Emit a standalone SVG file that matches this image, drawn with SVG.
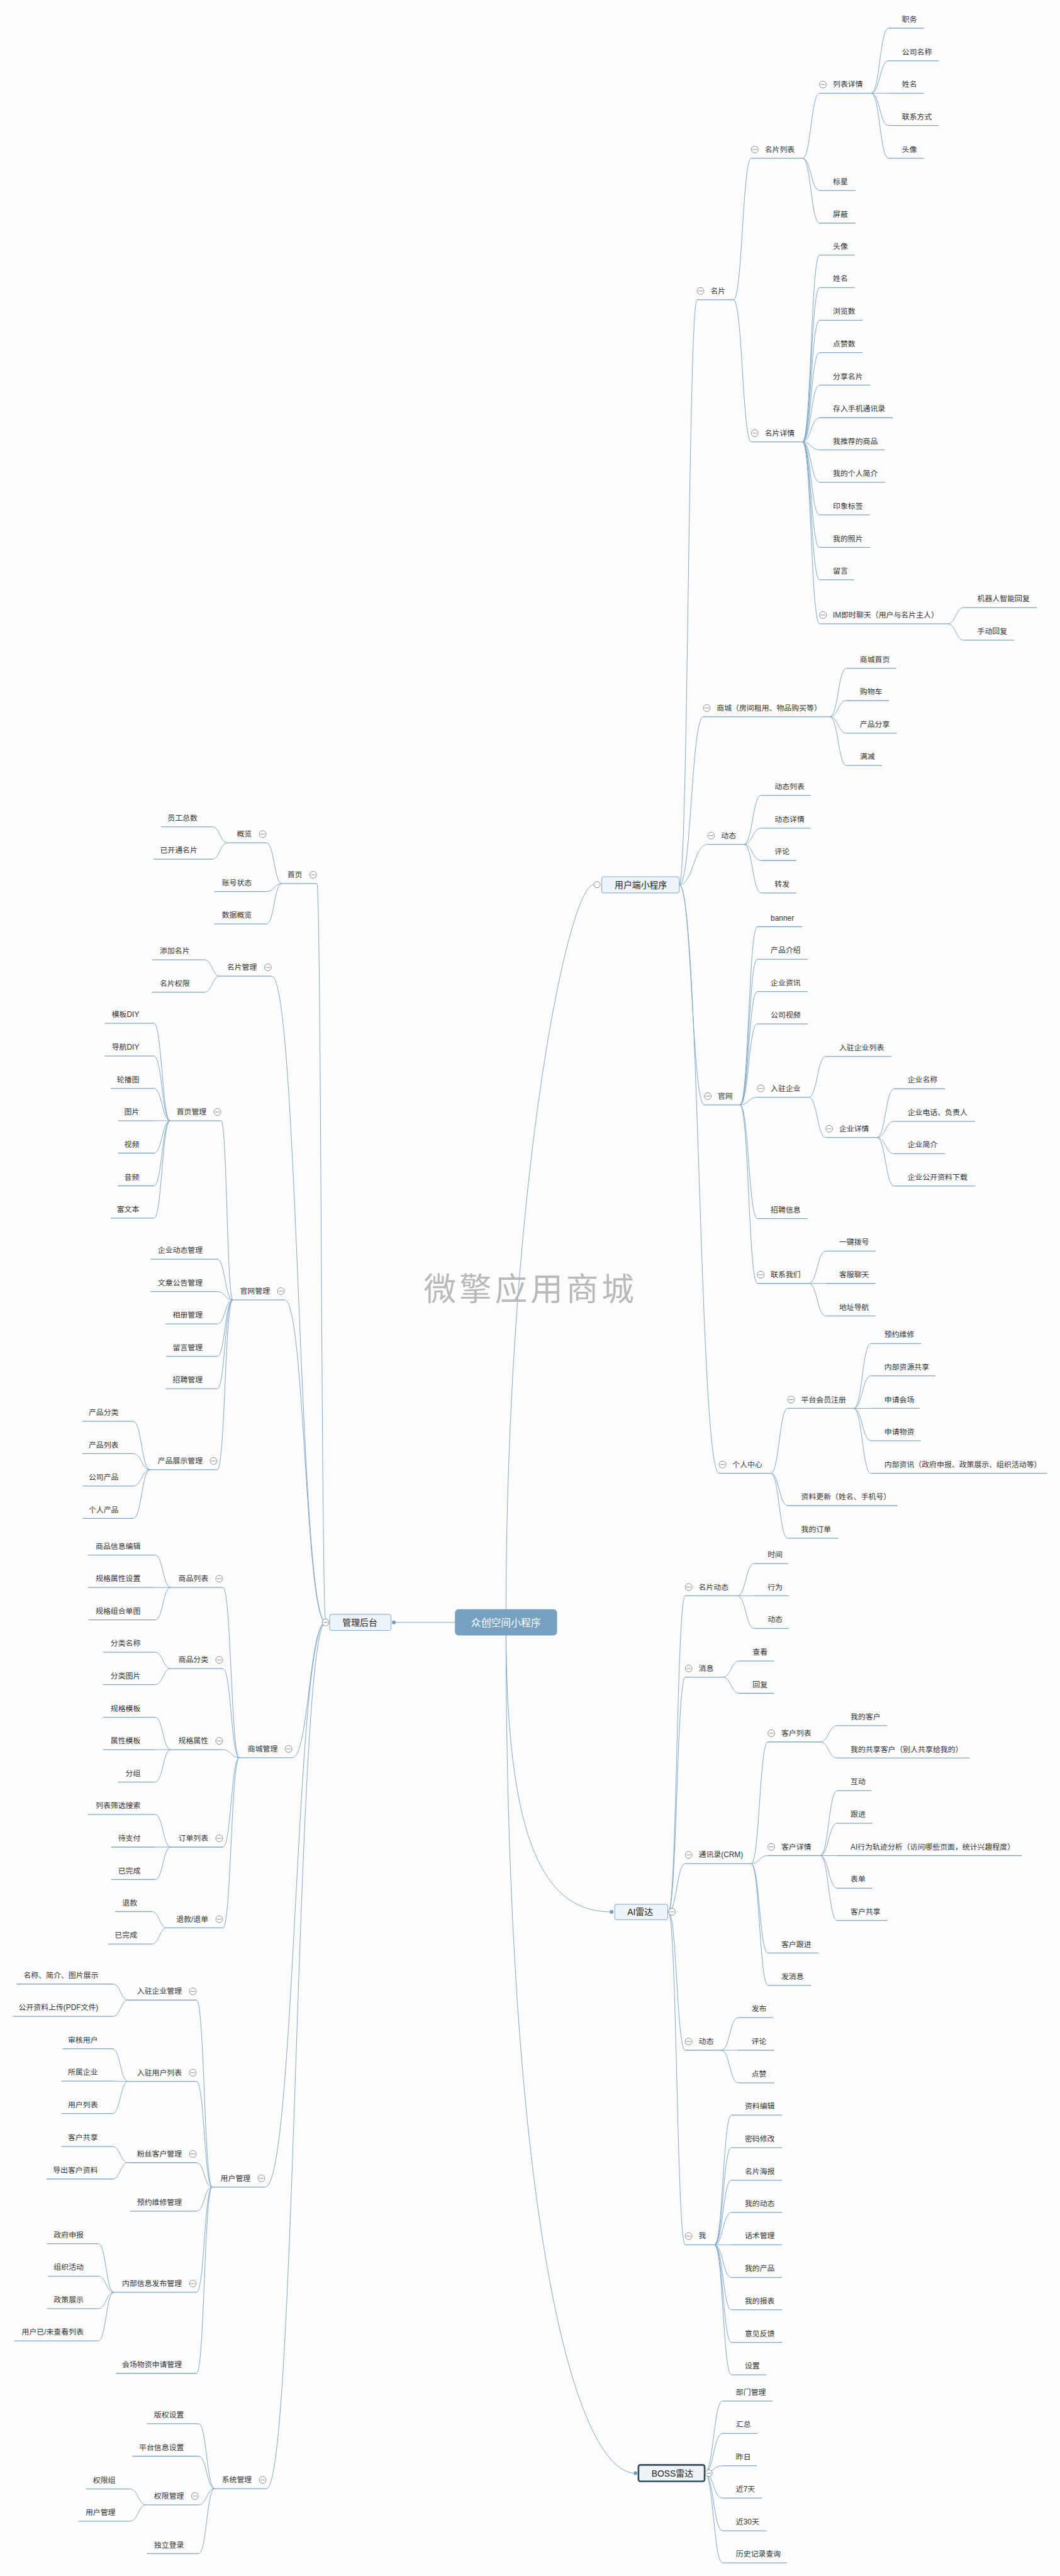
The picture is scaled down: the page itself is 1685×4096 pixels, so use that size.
<svg xmlns="http://www.w3.org/2000/svg" xmlns:xlink="http://www.w3.org/1999/xlink" width="1685" height="4096" viewBox="0 0 1685 4096">
<style>
.u{fill:none;stroke:#7fa6c6;stroke-width:1.3}
.l{fill:none;stroke:#7fa6c6;stroke-width:1}
.t{font-family:"Liberation Sans","Noto Sans CJK SC",sans-serif;font-size:12px;fill:#333}
.r{text-anchor:end}
.bx{fill:#eef4f8;stroke:#7fa6c6;stroke-width:1}
.bt{font-family:"Liberation Sans","Noto Sans CJK SC",sans-serif;font-size:14px;fill:#222}
.dot{fill:#6f9dc2}
</style>
<defs>
<g id="b"><circle r="5.5" fill="#fff" stroke="#8a8a8a" stroke-width="1"/><path d="M-3.6 0H3.6" stroke="#8a8a8a" stroke-width="1"/></g>
</defs>
<rect width="1685" height="4096" fill="#fcfcfc"/>
<g transform="scale(0.992)">
<g id="connectors" class="l">
<path d="M810.8 2600.5C810.8 1900 910 1418 951.5 1418M810.8 2600.5C810.8 2950 870 3064.5 980 3064.5M810.8 2600.5C810.8 3550 920 3964.2 1018.3 3964.2M729 2600.5H631.1"/>
<path d="M1088.5 1418C1102.8 1418 1102.8 480.4 1117 480.4M1088.5 1418C1107.8 1418 1107.8 1148.9 1127 1148.9M1088.5 1418C1111.3 1418 1111.3 1353.4 1134 1353.4M1088.5 1418C1108.6 1418 1108.6 1771 1128.6 1771M1088.5 1418C1120.4 1418 1120.4 2361.5 1152.2 2361.5"/>
<path d="M1175.4 480.4C1189.7 480.4 1189.7 253.6 1204 253.6M1175.4 480.4C1189.7 480.4 1189.7 708.3 1204 708.3"/>
<path d="M1286 253.6C1299.6 253.6 1299.6 149.5 1313.2 149.5M1286 253.6C1299.6 253.6 1299.6 305.3 1313.2 305.3M1286 253.6C1299.6 253.6 1299.6 357.6 1313.2 357.6"/>
<path d="M1396 149.5C1409.9 149.5 1409.9 45.1 1423.8 45.1M1396 149.5C1409.9 149.5 1409.9 97.3 1423.8 97.3M1396 149.5H1423.8M1396 149.5C1409.9 149.5 1409.9 201.3 1423.8 201.3M1396 149.5C1409.9 149.5 1409.9 253.6 1423.8 253.6"/>
<path d="M1286 708.3C1299.6 708.3 1299.6 408.9 1313.2 408.9M1286 708.3C1299.6 708.3 1299.6 461.1 1313.2 461.1M1286 708.3C1299.6 708.3 1299.6 513.4 1313.2 513.4M1286 708.3C1299.6 708.3 1299.6 565.2 1313.2 565.2M1286 708.3C1299.6 708.3 1299.6 617.4 1313.2 617.4M1286 708.3C1299.6 708.3 1299.6 669.6 1313.2 669.6M1286 708.3C1299.6 708.3 1299.6 721.2 1313.2 721.2M1286 708.3C1299.6 708.3 1299.6 773 1313.2 773M1286 708.3C1299.6 708.3 1299.6 825.3 1313.2 825.3M1286 708.3C1299.6 708.3 1299.6 877.5 1313.2 877.5M1286 708.3C1299.6 708.3 1299.6 929.3 1313.2 929.3M1286 708.3C1299.6 708.3 1299.6 999.8 1313.2 999.8"/>
<path d="M1518.5 999.8C1531.6 999.8 1531.6 973.9 1544.6 973.9M1518.5 999.8C1531.6 999.8 1531.6 1026.1 1544.6 1026.1"/>
<path d="M1329.8 1148.9C1343.1 1148.9 1343.1 1071.2 1356.3 1071.2M1329.8 1148.9C1343.1 1148.9 1343.1 1123 1356.3 1123M1329.8 1148.9C1343.1 1148.9 1343.1 1175.2 1356.3 1175.2M1329.8 1148.9C1343.1 1148.9 1343.1 1227 1356.3 1227"/>
<path d="M1192 1353.4C1205.9 1353.4 1205.9 1274.8 1219.7 1274.8M1192 1353.4C1205.9 1353.4 1205.9 1327.5 1219.7 1327.5M1192 1353.4C1205.9 1353.4 1205.9 1379.3 1219.7 1379.3M1192 1353.4C1205.9 1353.4 1205.9 1431.3 1219.7 1431.3"/>
<path d="M1185.8 1771C1199.7 1771 1199.7 1485.4 1213.5 1485.4M1185.8 1771C1199.7 1771 1199.7 1537.6 1213.5 1537.6M1185.8 1771C1199.7 1771 1199.7 1589.4 1213.5 1589.4M1185.8 1771C1199.7 1771 1199.7 1641.2 1213.5 1641.2M1185.8 1771C1199.7 1771 1199.7 1758.6 1213.5 1758.6M1185.8 1771C1199.7 1771 1199.7 1953.2 1213.5 1953.2M1185.8 1771C1199.7 1771 1199.7 2057.2 1213.5 2057.2"/>
<path d="M1295.9 1758.6C1309.6 1758.6 1309.6 1693.4 1323.2 1693.4M1295.9 1758.6C1309.6 1758.6 1309.6 1823.3 1323.2 1823.3"/>
<path d="M1405.1 1823.3C1419 1823.3 1419 1745.2 1432.8 1745.2M1405.1 1823.3C1419 1823.3 1419 1797.4 1432.8 1797.4M1405.1 1823.3C1419 1823.3 1419 1849.2 1432.8 1849.2M1405.1 1823.3C1419 1823.3 1419 1901 1432.8 1901"/>
<path d="M1295.9 2057.2C1309.6 2057.2 1309.6 2005.4 1323.2 2005.4M1295.9 2057.2H1323.2M1295.9 2057.2C1309.6 2057.2 1309.6 2109.3 1323.2 2109.3"/>
<path d="M1235 2361.5C1248.7 2361.5 1248.7 2257.5 1262.3 2257.5M1235 2361.5C1248.7 2361.5 1248.7 2413.3 1262.3 2413.3M1235 2361.5C1248.7 2361.5 1248.7 2465.5 1262.3 2465.5"/>
<path d="M1367.9 2257.5C1381.8 2257.5 1381.8 2153.5 1395.6 2153.5M1367.9 2257.5C1381.8 2257.5 1381.8 2205.3 1395.6 2205.3M1367.9 2257.5H1395.6M1367.9 2257.5C1381.8 2257.5 1381.8 2309.3 1395.6 2309.3M1367.9 2257.5C1381.8 2257.5 1381.8 2361.5 1395.6 2361.5"/>
<path d="M1071 3064.5C1084.5 3064.5 1084.5 2557.9 1098 2557.9M1071 3064.5C1084.5 3064.5 1084.5 2688.3 1098 2688.3M1071 3064.5C1084.5 3064.5 1084.5 2987.2 1098 2987.2M1071 3064.5C1084.5 3064.5 1084.5 3286.3 1098 3286.3M1071 3064.5C1084.5 3064.5 1084.5 3598.2 1098 3598.2"/>
<path d="M1181.6 2557.9C1195.1 2557.9 1195.1 2506.1 1208.5 2506.1M1181.6 2557.9H1208.5M1181.6 2557.9C1195.1 2557.9 1195.1 2610.2 1208.5 2610.2"/>
<path d="M1158.4 2688.3C1171.5 2688.3 1171.5 2662.4 1184.5 2662.4M1158.4 2688.3C1171.5 2688.3 1171.5 2714.2 1184.5 2714.2"/>
<path d="M1203.7 2987.2C1217.1 2987.2 1217.1 2792.1 1230.5 2792.1M1203.7 2987.2C1217.1 2987.2 1217.1 2974.3 1230.5 2974.3M1203.7 2987.2C1217.1 2987.2 1217.1 3130.5 1230.5 3130.5M1203.7 2987.2C1217.1 2987.2 1217.1 3182.3 1230.5 3182.3"/>
<path d="M1314.3 2792.1C1327.9 2792.1 1327.9 2765.9 1341.5 2765.9M1314.3 2792.1C1327.9 2792.1 1327.9 2818 1341.5 2818"/>
<path d="M1314.3 2974.3C1327.9 2974.3 1327.9 2870.3 1341.5 2870.3M1314.3 2974.3C1327.9 2974.3 1327.9 2922.5 1341.5 2922.5M1314.3 2974.3H1341.5M1314.3 2974.3C1327.9 2974.3 1327.9 3026.5 1341.5 3026.5M1314.3 2974.3C1327.9 2974.3 1327.9 3078.3 1341.5 3078.3"/>
<path d="M1156 3286.3C1169.4 3286.3 1169.4 3234.1 1182.8 3234.1M1156 3286.3H1182.8M1156 3286.3C1169.4 3286.3 1169.4 3338.5 1182.8 3338.5"/>
<path d="M1144.9 3598.2C1158.5 3598.2 1158.5 3390.3 1172 3390.3M1144.9 3598.2C1158.5 3598.2 1158.5 3442.5 1172 3442.5M1144.9 3598.2C1158.5 3598.2 1158.5 3494.5 1172 3494.5M1144.9 3598.2C1158.5 3598.2 1158.5 3546.3 1172 3546.3M1144.9 3598.2H1172M1144.9 3598.2C1158.5 3598.2 1158.5 3650.5 1172 3650.5M1144.9 3598.2C1158.5 3598.2 1158.5 3702.3 1172 3702.3M1144.9 3598.2C1158.5 3598.2 1158.5 3754.6 1172 3754.6M1144.9 3598.2C1158.5 3598.2 1158.5 3806.5 1172 3806.5"/>
<path d="M1129 3964.2C1143.4 3964.2 1143.4 3848.6 1157.8 3848.6M1129 3964.2C1143.4 3964.2 1143.4 3900.5 1157.8 3900.5M1129 3964.2C1143.4 3964.2 1143.4 3952.3 1157.8 3952.3M1129 3964.2C1143.4 3964.2 1143.4 4004.2 1157.8 4004.2M1129 3964.2C1143.4 3964.2 1143.4 4056.5 1157.8 4056.5M1129 3964.2C1143.4 3964.2 1143.4 4107.9 1157.8 4107.9"/>
<path d="M522 2600.5C514.9 2600.5 514.9 1416.2 507.8 1416.2M522 2600.5C478.6 2600.5 478.6 1564.6 435.2 1564.6M522 2600.5C489 2600.5 489 2083.5 456 2083.5M522 2600.5C495.2 2600.5 495.2 2817.4 468.4 2817.4M522 2600.5C473.5 2600.5 473.5 3505.6 424.9 3505.6M522 2600.5C474.5 2600.5 474.5 3989 427 3989"/>
<path d="M451.8 1416.2C439.4 1416.2 439.4 1351 427 1351M451.8 1416.2C439.4 1416.2 439.4 1429.1 427 1429.1M451.8 1416.2C439.4 1416.2 439.4 1481 427 1481"/>
<path d="M364.8 1351C352.4 1351 352.4 1325.3 339.9 1325.3M364.8 1351C352.4 1351 352.4 1377.2 339.9 1377.2"/>
<path d="M352.3 1564.6C339.9 1564.6 339.9 1538.4 327.5 1538.4M352.3 1564.6C339.9 1564.6 339.9 1590.3 327.5 1590.3"/>
<path d="M373 2083.5C363.7 2083.5 363.7 1796.4 354.4 1796.4M373 2083.5C360.6 2083.5 360.6 2018.3 348.2 2018.3M373 2083.5C360.6 2083.5 360.6 2070.2 348.2 2070.2M373 2083.5C360.6 2083.5 360.6 2122.1 348.2 2122.1M373 2083.5C360.6 2083.5 360.6 2174 348.2 2174M373 2083.5C360.6 2083.5 360.6 2225.9 348.2 2225.9M373 2083.5C360.6 2083.5 360.6 2355.8 348.2 2355.8"/>
<path d="M272.7 1796.4C259.7 1796.4 259.7 1640.3 246.6 1640.3M272.7 1796.4C259.7 1796.4 259.7 1692.7 246.6 1692.7M272.7 1796.4C259.7 1796.4 259.7 1744.6 246.6 1744.6M272.7 1796.4H246.6M272.7 1796.4C259.7 1796.4 259.7 1848.3 246.6 1848.3M272.7 1796.4C259.7 1796.4 259.7 1900.7 246.6 1900.7M272.7 1796.4C259.7 1796.4 259.7 1952.6 246.6 1952.6"/>
<path d="M240.4 2355.8C227 2355.8 227 2278.2 213.5 2278.2M240.4 2355.8C227 2355.8 227 2330.1 213.5 2330.1M240.4 2355.8C227 2355.8 227 2382 213.5 2382M240.4 2355.8C227 2355.8 227 2433.9 213.5 2433.9"/>
<path d="M383.4 2817.4C370.4 2817.4 370.4 2544.5 357.3 2544.5M383.4 2817.4C370.4 2817.4 370.4 2674.6 357.3 2674.6M383.4 2817.4C370.4 2817.4 370.4 2804.5 357.3 2804.5M383.4 2817.4C370.4 2817.4 370.4 2960.7 357.3 2960.7M383.4 2817.4C370.4 2817.4 370.4 3090.2 357.3 3090.2"/>
<path d="M273.6 2544.5C261.2 2544.5 261.2 2492.6 248.7 2492.6M273.6 2544.5H248.7M273.6 2544.5C261.2 2544.5 261.2 2596.4 248.7 2596.4"/>
<path d="M273.6 2674.6C261.2 2674.6 261.2 2648.4 248.7 2648.4M273.6 2674.6C261.2 2674.6 261.2 2700.3 248.7 2700.3"/>
<path d="M273.6 2804.5C261.2 2804.5 261.2 2752.7 248.7 2752.7M273.6 2804.5H248.7M273.6 2804.5C261.2 2804.5 261.2 2856.4 248.7 2856.4"/>
<path d="M273.6 2960.7C261.2 2960.7 261.2 2908.3 248.7 2908.3M273.6 2960.7H248.7M273.6 2960.7C261.2 2960.7 261.2 3012.6 248.7 3012.6"/>
<path d="M267.4 3090.2C255.4 3090.2 255.4 3064 243.3 3064M267.4 3090.2C255.4 3090.2 255.4 3116 243.3 3116"/>
<path d="M339.9 3505.6C327.5 3505.6 327.5 3205.9 315 3205.9M339.9 3505.6C327.5 3505.6 327.5 3336.3 315 3336.3M339.9 3505.6C327.5 3505.6 327.5 3466.5 315 3466.5M339.9 3505.6C327.5 3505.6 327.5 3544.3 315 3544.3M339.9 3505.6C327.5 3505.6 327.5 3674.3 315 3674.3M339.9 3505.6C327.5 3505.6 327.5 3804.2 315 3804.2"/>
<path d="M205.2 3205.9C193.2 3205.9 193.2 3180.2 181.1 3180.2M205.2 3205.9C193.2 3205.9 193.2 3232 181.1 3232"/>
<path d="M205.2 3336.3C192.8 3336.3 192.8 3284 180.3 3284M205.2 3336.3C192.8 3336.3 192.8 3335.8 180.3 3335.8M205.2 3336.3C192.8 3336.3 192.8 3387.7 180.3 3387.7"/>
<path d="M205.2 3466.5C192.8 3466.5 192.8 3440.7 180.3 3440.7M205.2 3466.5C192.8 3466.5 192.8 3492.7 180.3 3492.7"/>
<path d="M182.4 3674.3C170 3674.3 170 3596.4 157.5 3596.4M182.4 3674.3C170 3674.3 170 3648.5 157.5 3648.5M182.4 3674.3C170 3674.3 170 3700.5 157.5 3700.5M182.4 3674.3C170 3674.3 170 3752.1 157.5 3752.1"/>
<path d="M344 3989C331.2 3989 331.2 3884.9 318.3 3884.9M344 3989C331.2 3989 331.2 3937 318.3 3937M344 3989C331.2 3989 331.2 4014.9 318.3 4014.9M344 3989C331.2 3989 331.2 4093.2 318.3 4093.2"/>
<path d="M234.2 4014.9C221.4 4014.9 221.4 3989.5 208.5 3989.5M234.2 4014.9C221.4 4014.9 221.4 4041.1 208.5 4041.1"/>
</g>
<text x="679" y="2085" font-family="Liberation Sans,Noto Sans CJK SC,sans-serif" font-size="52" letter-spacing="5" fill="#b9b9b9">微擎应用商城</text>
<g id="root"><rect x="729" y="2579.4" width="163.7" height="42.1" rx="6" fill="#76a1c1"/><text x="810.8" y="2606.5" text-anchor="middle" font-family="Liberation Sans,Noto Sans CJK SC,sans-serif" font-size="16" fill="#fff">众创空间小程序</text></g>
<g id="main-admin"><rect class="bx" x="528.3" y="2587.6" width="98.3" height="25.8" rx="3"/><text class="bt" x="548.7" y="2605.8">管理后台</text><use href="#b" x="521.7" y="2600.5"/><circle class="dot" cx="631.1" cy="2600.5" r="3"/></g>
<g id="main-user"><rect class="bx" x="964.3" y="1405.4" width="124.2" height="25.9" rx="3"/><text class="bt" x="985" y="1423.7">用户端小程序</text><circle cx="956.7" cy="1418" r="5" fill="#fff" stroke="#8a8a8a"/></g>
<g id="main-ai"><rect class="bx" x="985" y="3052.4" width="85" height="24.6" rx="3"/><text class="bt" x="1005.3" y="3069.8">AI雷达</text><circle class="dot" cx="980" cy="3064.5" r="3"/><use href="#b" x="1076.7" y="3064.5"/></g>
<g id="main-boss"><rect x="1023.1" y="3951" width="106" height="26.4" rx="3" fill="#eef4f8" stroke="#2e4a5c" stroke-width="2.6"/><text class="bt" x="1044.1" y="3969.5">BOSS雷达</text><circle class="dot" cx="1018.3" cy="3964.2" r="3"/><use href="#b" x="1135.8" y="3964.2"/></g>
<g id="n-mp"><path class="u" d="M1117 480.4H1175.4"/><use href="#b" x="1122.5" y="466.4"/><text class="t" x="1138.5" y="470.4">名片</text></g>
<g id="n-mplb"><path class="u" d="M1204 253.6H1286"/><use href="#b" x="1209.5" y="239.6"/><text class="t" x="1225.5" y="243.6">名片列表</text></g>
<g id="n-lbxq"><path class="u" d="M1313.2 149.5H1396"/><use href="#b" x="1318.7" y="135.5"/><text class="t" x="1334.7" y="139.5">列表详情</text></g>
<g id="n-zw"><path class="u" d="M1423.8 45.1H1480.5"/><text class="t" x="1445.3" y="35.1">职务</text></g>
<g id="n-gsmc"><path class="u" d="M1423.8 97.3H1504.5"/><text class="t" x="1445.3" y="87.3">公司名称</text></g>
<g id="n-xm1"><path class="u" d="M1423.8 149.5H1480.5"/><text class="t" x="1445.3" y="139.5">姓名</text></g>
<g id="n-lxfs"><path class="u" d="M1423.8 201.3H1504.5"/><text class="t" x="1445.3" y="191.3">联系方式</text></g>
<g id="n-tx1"><path class="u" d="M1423.8 253.6H1480.5"/><text class="t" x="1445.3" y="243.6">头像</text></g>
<g id="n-bx"><path class="u" d="M1313.2 305.3H1370.8"/><text class="t" x="1334.7" y="295.3">标星</text></g>
<g id="n-pb"><path class="u" d="M1313.2 357.6H1370.8"/><text class="t" x="1334.7" y="347.6">屏蔽</text></g>
<g id="n-mpxq"><path class="u" d="M1204 708.3H1286"/><use href="#b" x="1209.5" y="694.3"/><text class="t" x="1225.5" y="698.3">名片详情</text></g>
<g id="n-tx2"><path class="u" d="M1313.2 408.9H1369.5"/><text class="t" x="1334.7" y="398.9">头像</text></g>
<g id="n-xm2"><path class="u" d="M1313.2 461.1H1369.5"/><text class="t" x="1334.7" y="451.1">姓名</text></g>
<g id="n-lls"><path class="u" d="M1313.2 513.4H1382.4"/><text class="t" x="1334.7" y="503.4">浏览数</text></g>
<g id="n-dzs"><path class="u" d="M1313.2 565.2H1382.4"/><text class="t" x="1334.7" y="555.2">点赞数</text></g>
<g id="n-fxmp"><path class="u" d="M1313.2 617.4H1394.8"/><text class="t" x="1334.7" y="607.4">分享名片</text></g>
<g id="n-crsj"><path class="u" d="M1313.2 669.6H1430.8"/><text class="t" x="1334.7" y="659.6">存入手机通讯录</text></g>
<g id="n-wtj"><path class="u" d="M1313.2 721.2H1417.5"/><text class="t" x="1334.7" y="711.2">我推荐的商品</text></g>
<g id="n-grjj"><path class="u" d="M1313.2 773H1418.4"/><text class="t" x="1334.7" y="763">我的个人简介</text></g>
<g id="n-yxbq"><path class="u" d="M1313.2 825.3H1393.5"/><text class="t" x="1334.7" y="815.3">印象标签</text></g>
<g id="n-wdzp"><path class="u" d="M1313.2 877.5H1394.8"/><text class="t" x="1334.7" y="867.5">我的照片</text></g>
<g id="n-ly"><path class="u" d="M1313.2 929.3H1368.7"/><text class="t" x="1334.7" y="919.3">留言</text></g>
<g id="n-im"><path class="u" d="M1313.2 999.8H1518.5"/><use href="#b" x="1318.7" y="985.8"/><text class="t" x="1334.7" y="989.8">IM即时聊天（用户与名片主人）</text></g>
<g id="n-jqr"><path class="u" d="M1544.6 973.9H1661.8"/><text class="t" x="1566.1" y="963.9">机器人智能回复</text></g>
<g id="n-sdhf"><path class="u" d="M1544.6 1026.1H1625.3"/><text class="t" x="1566.1" y="1016.1">手动回复</text></g>
<g id="n-sc"><path class="u" d="M1127 1148.9H1329.8"/><use href="#b" x="1132.5" y="1134.9"/><text class="t" x="1148.5" y="1138.9">商城（房间租用、物品购买等）</text></g>
<g id="n-scsy"><path class="u" d="M1356.3 1071.2H1436.2"/><text class="t" x="1377.8" y="1061.2">商城首页</text></g>
<g id="n-gwc"><path class="u" d="M1356.3 1123H1424.6"/><text class="t" x="1377.8" y="1113">购物车</text></g>
<g id="n-cpfx"><path class="u" d="M1356.3 1175.2H1437"/><text class="t" x="1377.8" y="1165.2">产品分享</text></g>
<g id="n-mj"><path class="u" d="M1356.3 1227H1413.4"/><text class="t" x="1377.8" y="1217">满减</text></g>
<g id="n-dt"><path class="u" d="M1134 1353.4H1192"/><use href="#b" x="1139.5" y="1339.4"/><text class="t" x="1155.5" y="1343.4">动态</text></g>
<g id="n-dtlb"><path class="u" d="M1219.7 1274.8H1299.2"/><text class="t" x="1241.2" y="1264.8">动态列表</text></g>
<g id="n-dtxq"><path class="u" d="M1219.7 1327.5H1299.2"/><text class="t" x="1241.2" y="1317.5">动态详情</text></g>
<g id="n-pl1"><path class="u" d="M1219.7 1379.3H1276"/><text class="t" x="1241.2" y="1369.3">评论</text></g>
<g id="n-zf"><path class="u" d="M1219.7 1431.3H1276"/><text class="t" x="1241.2" y="1421.3">转发</text></g>
<g id="n-gw"><path class="u" d="M1128.6 1771H1185.8"/><use href="#b" x="1134.1" y="1757"/><text class="t" x="1150.1" y="1761">官网</text></g>
<g id="n-banner"><path class="u" d="M1213.5 1485.4H1285.1"/><text class="t" x="1235" y="1475.4">banner</text></g>
<g id="n-cpjs"><path class="u" d="M1213.5 1537.6H1294.2"/><text class="t" x="1235" y="1527.6">产品介绍</text></g>
<g id="n-qyzx"><path class="u" d="M1213.5 1589.4H1294.2"/><text class="t" x="1235" y="1579.4">企业资讯</text></g>
<g id="n-gssp"><path class="u" d="M1213.5 1641.2H1294.2"/><text class="t" x="1235" y="1631.2">公司视频</text></g>
<g id="n-rzqy"><path class="u" d="M1213.5 1758.6H1295.9"/><use href="#b" x="1219" y="1744.6"/><text class="t" x="1235" y="1748.6">入驻企业</text></g>
<g id="n-rzqylb"><path class="u" d="M1323.2 1693.4H1428.7"/><text class="t" x="1344.7" y="1683.4">入驻企业列表</text></g>
<g id="n-qyxq"><path class="u" d="M1323.2 1823.3H1405.1"/><use href="#b" x="1328.7" y="1809.3"/><text class="t" x="1344.7" y="1813.3">企业详情</text></g>
<g id="n-qymc"><path class="u" d="M1432.8 1745.2H1514.4"/><text class="t" x="1454.3" y="1735.2">企业名称</text></g>
<g id="n-qydh"><path class="u" d="M1432.8 1797.4H1562.4"/><text class="t" x="1454.3" y="1787.4">企业电话、负责人</text></g>
<g id="n-qyjj"><path class="u" d="M1432.8 1849.2H1514.4"/><text class="t" x="1454.3" y="1839.2">企业简介</text></g>
<g id="n-qygk"><path class="u" d="M1432.8 1901H1562.4"/><text class="t" x="1454.3" y="1891">企业公开资料下载</text></g>
<g id="n-zpxx"><path class="u" d="M1213.5 1953.2H1294.2"/><text class="t" x="1235" y="1943.2">招聘信息</text></g>
<g id="n-lxwm"><path class="u" d="M1213.5 2057.2H1295.9"/><use href="#b" x="1219" y="2043.2"/><text class="t" x="1235" y="2047.2">联系我们</text></g>
<g id="n-yjbh"><path class="u" d="M1323.2 2005.4H1403"/><text class="t" x="1344.7" y="1995.4">一键拨号</text></g>
<g id="n-kflt"><path class="u" d="M1323.2 2057.2H1403"/><text class="t" x="1344.7" y="2047.2">客服聊天</text></g>
<g id="n-dzdh"><path class="u" d="M1323.2 2109.3H1403"/><text class="t" x="1344.7" y="2099.3">地址导航</text></g>
<g id="n-grzx"><path class="u" d="M1152.2 2361.5H1235"/><use href="#b" x="1157.7" y="2347.5"/><text class="t" x="1173.7" y="2351.5">个人中心</text></g>
<g id="n-pthy"><path class="u" d="M1262.3 2257.5H1367.9"/><use href="#b" x="1267.8" y="2243.5"/><text class="t" x="1283.8" y="2247.5">平台会员注册</text></g>
<g id="n-yywx"><path class="u" d="M1395.6 2153.5H1476.3"/><text class="t" x="1417.1" y="2143.5">预约维修</text></g>
<g id="n-nbzy"><path class="u" d="M1395.6 2205.3H1499.1"/><text class="t" x="1417.1" y="2195.3">内部资源共享</text></g>
<g id="n-sqhc"><path class="u" d="M1395.6 2257.5H1474.2"/><text class="t" x="1417.1" y="2247.5">申请会场</text></g>
<g id="n-sqwz"><path class="u" d="M1395.6 2309.3H1475.5"/><text class="t" x="1417.1" y="2299.3">申请物资</text></g>
<g id="n-nbzx"><path class="u" d="M1395.6 2361.5H1678.3"/><text class="t" x="1417.1" y="2351.5">内部资讯（政府申报、政策展示、组织活动等）</text></g>
<g id="n-zlgx"><path class="u" d="M1262.3 2413.3H1438.2"/><text class="t" x="1283.8" y="2403.3">资料更新（姓名、手机号）</text></g>
<g id="n-wddd"><path class="u" d="M1262.3 2465.5H1343.5"/><text class="t" x="1283.8" y="2455.5">我的订单</text></g>
<g id="n-mpdt"><path class="u" d="M1098 2557.9H1181.6"/><use href="#b" x="1103.5" y="2543.9"/><text class="t" x="1119.5" y="2547.9">名片动态</text></g>
<g id="n-sj"><path class="u" d="M1208.5 2506.1H1263.2"/><text class="t" x="1230" y="2496.1">时间</text></g>
<g id="n-xw"><path class="u" d="M1208.5 2557.9H1264"/><text class="t" x="1230" y="2547.9">行为</text></g>
<g id="n-dt2"><path class="u" d="M1208.5 2610.2H1264"/><text class="t" x="1230" y="2600.2">动态</text></g>
<g id="n-xx"><path class="u" d="M1098 2688.3H1158.4"/><use href="#b" x="1103.5" y="2674.3"/><text class="t" x="1119.5" y="2678.3">消息</text></g>
<g id="n-ck"><path class="u" d="M1184.5 2662.4H1240.4"/><text class="t" x="1206" y="2652.4">查看</text></g>
<g id="n-hf"><path class="u" d="M1184.5 2714.2H1240.4"/><text class="t" x="1206" y="2704.2">回复</text></g>
<g id="n-txl"><path class="u" d="M1098 2987.2H1203.7"/><use href="#b" x="1103.5" y="2973.2"/><text class="t" x="1119.5" y="2977.2">通讯录(CRM)</text></g>
<g id="n-khlb"><path class="u" d="M1230.5 2792.1H1314.3"/><use href="#b" x="1236" y="2778.1"/><text class="t" x="1252" y="2782.1">客户列表</text></g>
<g id="n-wdkh"><path class="u" d="M1341.5 2765.9H1421.5"/><text class="t" x="1363" y="2755.9">我的客户</text></g>
<g id="n-gxkh"><path class="u" d="M1341.5 2818H1553.7"/><text class="t" x="1363" y="2808">我的共享客户（别人共享给我的）</text></g>
<g id="n-khxq"><path class="u" d="M1230.5 2974.3H1314.3"/><use href="#b" x="1236" y="2960.3"/><text class="t" x="1252" y="2964.3">客户详情</text></g>
<g id="n-hd"><path class="u" d="M1341.5 2870.3H1396.8"/><text class="t" x="1363" y="2860.3">互动</text></g>
<g id="n-gj"><path class="u" d="M1341.5 2922.5H1398"/><text class="t" x="1363" y="2912.5">跟进</text></g>
<g id="n-aixw"><path class="u" d="M1341.5 2974.3H1637.5"/><text class="t" x="1363" y="2964.3">AI行为轨迹分析（访问哪些页面，统计兴趣程度）</text></g>
<g id="n-bd"><path class="u" d="M1341.5 3026.5H1398"/><text class="t" x="1363" y="3016.5">表单</text></g>
<g id="n-khgx"><path class="u" d="M1341.5 3078.3H1422.2"/><text class="t" x="1363" y="3068.3">客户共享</text></g>
<g id="n-khgj"><path class="u" d="M1230.5 3130.5H1312"/><text class="t" x="1252" y="3120.5">客户跟进</text></g>
<g id="n-fxx"><path class="u" d="M1230.5 3182.3H1300"/><text class="t" x="1252" y="3172.3">发消息</text></g>
<g id="n-dt3"><path class="u" d="M1098 3286.3H1156"/><use href="#b" x="1103.5" y="3272.3"/><text class="t" x="1119.5" y="3276.3">动态</text></g>
<g id="n-fb"><path class="u" d="M1182.8 3234.1H1239.4"/><text class="t" x="1204.3" y="3224.1">发布</text></g>
<g id="n-pl2"><path class="u" d="M1182.8 3286.3H1240.7"/><text class="t" x="1204.3" y="3276.3">评论</text></g>
<g id="n-dz"><path class="u" d="M1182.8 3338.5H1240.7"/><text class="t" x="1204.3" y="3328.5">点赞</text></g>
<g id="n-w"><path class="u" d="M1098 3598.2H1144.9"/><use href="#b" x="1103.5" y="3584.2"/><text class="t" x="1119.5" y="3588.2">我</text></g>
<g id="n-zlbj"><path class="u" d="M1172 3390.3H1253.3"/><text class="t" x="1193.5" y="3380.3">资料编辑</text></g>
<g id="n-mmxg"><path class="u" d="M1172 3442.5H1253.3"/><text class="t" x="1193.5" y="3432.5">密码修改</text></g>
<g id="n-mphb"><path class="u" d="M1172 3494.5H1253.3"/><text class="t" x="1193.5" y="3484.5">名片海报</text></g>
<g id="n-wddt"><path class="u" d="M1172 3546.3H1253.3"/><text class="t" x="1193.5" y="3536.3">我的动态</text></g>
<g id="n-hsgl"><path class="u" d="M1172 3598.2H1253.3"/><text class="t" x="1193.5" y="3588.2">话术管理</text></g>
<g id="n-wdcp"><path class="u" d="M1172 3650.5H1253.3"/><text class="t" x="1193.5" y="3640.5">我的产品</text></g>
<g id="n-wdbb"><path class="u" d="M1172 3702.3H1253.3"/><text class="t" x="1193.5" y="3692.3">我的报表</text></g>
<g id="n-yjfk"><path class="u" d="M1172 3754.6H1253.3"/><text class="t" x="1193.5" y="3744.6">意见反馈</text></g>
<g id="n-sz"><path class="u" d="M1172 3806.5H1228.5"/><text class="t" x="1193.5" y="3796.5">设置</text></g>
<g id="n-bmgl"><path class="u" d="M1157.8 3848.6H1238.5"/><text class="t" x="1179.3" y="3838.6">部门管理</text></g>
<g id="n-hz"><path class="u" d="M1157.8 3900.5H1214.2"/><text class="t" x="1179.3" y="3890.5">汇总</text></g>
<g id="n-zr"><path class="u" d="M1157.8 3952.3H1212.7"/><text class="t" x="1179.3" y="3942.3">昨日</text></g>
<g id="n-j7"><path class="u" d="M1157.8 4004.2H1221.3"/><text class="t" x="1179.3" y="3994.2">近7天</text></g>
<g id="n-j30"><path class="u" d="M1157.8 4056.5H1228.5"/><text class="t" x="1179.3" y="4046.5">近30天</text></g>
<g id="n-lsjl"><path class="u" d="M1157.8 4107.9H1261"/><text class="t" x="1179.3" y="4097.9">历史记录查询</text></g>
<g id="l-sy"><path class="u" d="M451.8 1416.2H507.8"/><use href="#b" x="501.8" y="1402.2"/><text class="t r" x="484.3" y="1406.2">首页</text></g>
<g id="l-gl"><path class="u" d="M364.8 1351H427"/><use href="#b" x="421" y="1337"/><text class="t r" x="403.5" y="1341">概览</text></g>
<g id="l-ygzs"><path class="u" d="M257.8 1325.3H339.9"/><text class="t r" x="316.4" y="1315.3">员工总数</text></g>
<g id="l-yktmp"><path class="u" d="M246.2 1377.2H339.9"/><text class="t r" x="316.4" y="1367.2">已开通名片</text></g>
<g id="l-zhzt"><path class="u" d="M343.2 1429.1H427"/><text class="t r" x="403.5" y="1419.1">账号状态</text></g>
<g id="l-sjgl"><path class="u" d="M343.2 1481H427"/><text class="t r" x="403.5" y="1471">数据概览</text></g>
<g id="l-mpgl"><path class="u" d="M352.3 1564.6H435.2"/><use href="#b" x="429.2" y="1550.6"/><text class="t r" x="411.7" y="1554.6">名片管理</text></g>
<g id="l-tjmp"><path class="u" d="M243.3 1538.4H327.5"/><text class="t r" x="304" y="1528.4">添加名片</text></g>
<g id="l-mpqx"><path class="u" d="M243.3 1590.3H327.5"/><text class="t r" x="304" y="1580.3">名片权限</text></g>
<g id="l-gwgl"><path class="u" d="M373 2083.5H456"/><use href="#b" x="450" y="2069.5"/><text class="t r" x="432.5" y="2073.5">官网管理</text></g>
<g id="l-sygl"><path class="u" d="M272.7 1796.4H354.4"/><use href="#b" x="348.4" y="1782.4"/><text class="t r" x="330.9" y="1786.4">首页管理</text></g>
<g id="l-mbdiy"><path class="u" d="M167.9 1640.3H246.6"/><text class="t r" x="223.1" y="1630.3">模板DIY</text></g>
<g id="l-dhdiy"><path class="u" d="M167.9 1692.7H246.6"/><text class="t r" x="223.1" y="1682.7">导航DIY</text></g>
<g id="l-lbt"><path class="u" d="M177.4 1744.6H246.6"/><text class="t r" x="223.1" y="1734.6">轮播图</text></g>
<g id="l-tp"><path class="u" d="M189 1796.4H246.6"/><text class="t r" x="223.1" y="1786.4">图片</text></g>
<g id="l-sp"><path class="u" d="M189 1848.3H246.6"/><text class="t r" x="223.1" y="1838.3">视频</text></g>
<g id="l-yp"><path class="u" d="M189 1900.7H246.6"/><text class="t r" x="223.1" y="1890.7">音频</text></g>
<g id="l-fwb"><path class="u" d="M177.4 1952.6H246.6"/><text class="t r" x="223.1" y="1942.6">富文本</text></g>
<g id="l-qydt"><path class="u" d="M241.2 2018.3H348.2"/><text class="t r" x="324.7" y="2008.3">企业动态管理</text></g>
<g id="l-wzgg"><path class="u" d="M241.2 2070.2H348.2"/><text class="t r" x="324.7" y="2060.2">文章公告管理</text></g>
<g id="l-xcgl"><path class="u" d="M265.3 2122.1H348.2"/><text class="t r" x="324.7" y="2112.1">相册管理</text></g>
<g id="l-lygl"><path class="u" d="M266.1 2174H348.2"/><text class="t r" x="324.7" y="2164">留言管理</text></g>
<g id="l-zpgl"><path class="u" d="M265.3 2225.9H348.2"/><text class="t r" x="324.7" y="2215.9">招聘管理</text></g>
<g id="l-cpzs"><path class="u" d="M240.4 2355.8H348.2"/><use href="#b" x="342.2" y="2341.8"/><text class="t r" x="324.7" y="2345.8">产品展示管理</text></g>
<g id="l-cpfl"><path class="u" d="M131.8 2278.2H213.5"/><text class="t r" x="190" y="2268.2">产品分类</text></g>
<g id="l-cplb"><path class="u" d="M131.8 2330.1H213.5"/><text class="t r" x="190" y="2320.1">产品列表</text></g>
<g id="l-gscp"><path class="u" d="M132.6 2382H213.5"/><text class="t r" x="190" y="2372">公司产品</text></g>
<g id="l-grcp"><path class="u" d="M132.6 2433.9H213.5"/><text class="t r" x="190" y="2423.9">个人产品</text></g>
<g id="l-scgl"><path class="u" d="M383.4 2817.4H468.4"/><use href="#b" x="462.4" y="2803.4"/><text class="t r" x="444.9" y="2807.4">商城管理</text></g>
<g id="l-splb"><path class="u" d="M273.6 2544.5H357.3"/><use href="#b" x="351.3" y="2530.5"/><text class="t r" x="333.8" y="2534.5">商品列表</text></g>
<g id="l-spxx"><path class="u" d="M140.9 2492.6H248.7"/><text class="t r" x="225.2" y="2482.6">商品信息编辑</text></g>
<g id="l-ggsx"><path class="u" d="M140.9 2544.5H248.7"/><text class="t r" x="225.2" y="2534.5">规格属性设置</text></g>
<g id="l-gzdt"><path class="u" d="M141.8 2596.4H248.7"/><text class="t r" x="225.2" y="2586.4">规格组合单图</text></g>
<g id="l-spfl"><path class="u" d="M273.6 2674.6H357.3"/><use href="#b" x="351.3" y="2660.6"/><text class="t r" x="333.8" y="2664.6">商品分类</text></g>
<g id="l-flmc"><path class="u" d="M165 2648.4H248.7"/><text class="t r" x="225.2" y="2638.4">分类名称</text></g>
<g id="l-fltp"><path class="u" d="M165 2700.3H248.7"/><text class="t r" x="225.2" y="2690.3">分类图片</text></g>
<g id="l-ggsx2"><path class="u" d="M273.6 2804.5H357.3"/><use href="#b" x="351.3" y="2790.5"/><text class="t r" x="333.8" y="2794.5">规格属性</text></g>
<g id="l-ggmb"><path class="u" d="M165 2752.7H248.7"/><text class="t r" x="225.2" y="2742.7">规格模板</text></g>
<g id="l-sxmb"><path class="u" d="M165 2804.5H248.7"/><text class="t r" x="225.2" y="2794.5">属性模板</text></g>
<g id="l-fz"><path class="u" d="M189 2856.4H248.7"/><text class="t r" x="225.2" y="2846.4">分组</text></g>
<g id="l-ddlb"><path class="u" d="M273.6 2960.7H357.3"/><use href="#b" x="351.3" y="2946.7"/><text class="t r" x="333.8" y="2950.7">订单列表</text></g>
<g id="l-lbsx"><path class="u" d="M140.9 2908.3H248.7"/><text class="t r" x="225.2" y="2898.3">列表筛选搜索</text></g>
<g id="l-dzf"><path class="u" d="M178.2 2960.7H248.7"/><text class="t r" x="225.2" y="2950.7">待支付</text></g>
<g id="l-ywc1"><path class="u" d="M178.2 3012.6H248.7"/><text class="t r" x="225.2" y="3002.6">已完成</text></g>
<g id="l-tk"><path class="u" d="M267.4 3090.2H357.3"/><use href="#b" x="351.3" y="3076.2"/><text class="t r" x="333.8" y="3080.2">退款/退单</text></g>
<g id="l-tk2"><path class="u" d="M184.5 3064H243.3"/><text class="t r" x="219.8" y="3054">退款</text></g>
<g id="l-ywc2"><path class="u" d="M173.3 3116H243.3"/><text class="t r" x="219.8" y="3106">已完成</text></g>
<g id="l-yhgl"><path class="u" d="M339.9 3505.6H424.9"/><use href="#b" x="418.9" y="3491.6"/><text class="t r" x="401.4" y="3495.6">用户管理</text></g>
<g id="l-rzqygl"><path class="u" d="M205.2 3205.9H315"/><use href="#b" x="309" y="3191.9"/><text class="t r" x="291.5" y="3195.9">入驻企业管理</text></g>
<g id="l-mcjj"><path class="u" d="M26.5 3180.2H181.1"/><text class="t r" x="157.6" y="3170.2">名称、简介、图片展示</text></g>
<g id="l-gkzl"><path class="u" d="M20.7 3232H181.1"/><text class="t r" x="157.6" y="3222">公开资料上传(PDF文件)</text></g>
<g id="l-rzyh"><path class="u" d="M205.2 3336.3H315"/><use href="#b" x="309" y="3322.3"/><text class="t r" x="291.5" y="3326.3">入驻用户列表</text></g>
<g id="l-shyh"><path class="u" d="M100.3 3284H180.3"/><text class="t r" x="156.8" y="3274">审核用户</text></g>
<g id="l-ssqy"><path class="u" d="M98.2 3335.8H180.3"/><text class="t r" x="156.8" y="3325.8">所属企业</text></g>
<g id="l-yhlb"><path class="u" d="M98.2 3387.7H180.3"/><text class="t r" x="156.8" y="3377.7">用户列表</text></g>
<g id="l-fskh"><path class="u" d="M205.2 3466.5H315"/><use href="#b" x="309" y="3452.5"/><text class="t r" x="291.5" y="3456.5">粉丝客户管理</text></g>
<g id="l-khgx"><path class="u" d="M98.2 3440.7H180.3"/><text class="t r" x="156.8" y="3430.7">客户共享</text></g>
<g id="l-dckh"><path class="u" d="M74.6 3492.7H180.3"/><text class="t r" x="156.8" y="3482.7">导出客户资料</text></g>
<g id="l-yywx"><path class="u" d="M208.5 3544.3H315"/><text class="t r" x="291.5" y="3534.3">预约维修管理</text></g>
<g id="l-nbxx"><path class="u" d="M182.4 3674.3H315"/><use href="#b" x="309" y="3660.3"/><text class="t r" x="291.5" y="3664.3">内部信息发布管理</text></g>
<g id="l-zfsb"><path class="u" d="M75.4 3596.4H157.5"/><text class="t r" x="134" y="3586.4">政府申报</text></g>
<g id="l-zzhd"><path class="u" d="M77.5 3648.5H157.5"/><text class="t r" x="134" y="3638.5">组织活动</text></g>
<g id="l-zczs"><path class="u" d="M75.4 3700.5H157.5"/><text class="t r" x="134" y="3690.5">政策展示</text></g>
<g id="l-yhck"><path class="u" d="M22.8 3752.1H157.5"/><text class="t r" x="134" y="3742.1">用户已/未查看列表</text></g>
<g id="l-hcwz"><path class="u" d="M185.7 3804.2H315"/><text class="t r" x="291.5" y="3794.2">会场物资申请管理</text></g>
<g id="l-xtgl"><path class="u" d="M344 3989H427"/><use href="#b" x="421" y="3975"/><text class="t r" x="403.5" y="3979">系统管理</text></g>
<g id="l-bqsz"><path class="u" d="M235.4 3884.9H318.3"/><text class="t r" x="294.8" y="3874.9">版权设置</text></g>
<g id="l-ptxx"><path class="u" d="M212.2 3937H318.3"/><text class="t r" x="294.8" y="3927">平台信息设置</text></g>
<g id="l-qxgl"><path class="u" d="M234.2 4014.9H318.3"/><use href="#b" x="312.3" y="4000.9"/><text class="t r" x="294.8" y="4004.9">权限管理</text></g>
<g id="l-qxz"><path class="u" d="M137.6 3989.5H208.5"/><text class="t r" x="185" y="3979.5">权限组</text></g>
<g id="l-yhgl2"><path class="u" d="M125.6 4041.1H208.5"/><text class="t r" x="185" y="4031.1">用户管理</text></g>
<g id="l-dldl"><path class="u" d="M235.4 4093.2H318.3"/><text class="t r" x="294.8" y="4083.2">独立登录</text></g>
</g>
</svg>
